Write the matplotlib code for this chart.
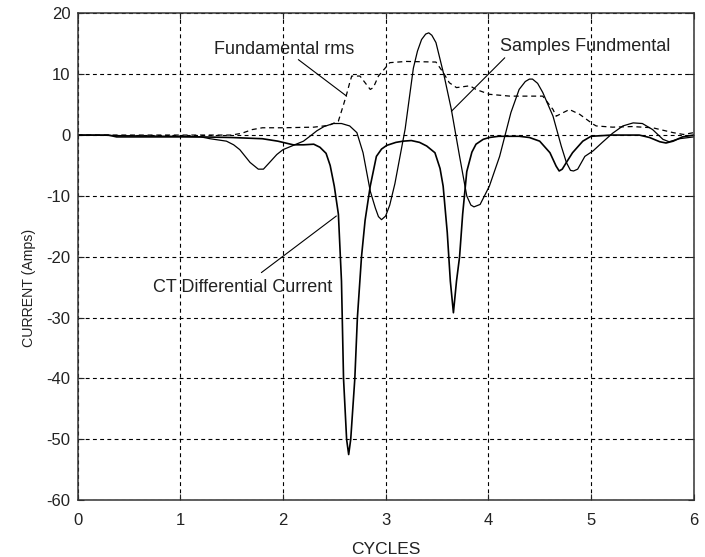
import matplotlib
matplotlib.use("Agg")
import matplotlib.pyplot as plt

plt.rcParams['font.family'] = ['Liberation Sans', 'DejaVu Sans']
plt.rcParams['axes.unicode_minus'] = False

# CT differential current (solid, sharp negative spikes)
x_ct = [0.00, 0.30, 0.38, 0.80, 1.20, 1.50, 1.80, 1.95, 2.10, 2.20, 2.30, 2.36,
        2.42, 2.46, 2.50, 2.54, 2.57, 2.59, 2.62, 2.64, 2.66, 2.70, 2.725, 2.765,
        2.80, 2.85, 2.91, 2.96, 3.01, 3.10, 3.17, 3.25, 3.33, 3.40, 3.48, 3.53,
        3.56, 3.60, 3.63, 3.66, 3.69, 3.72, 3.75, 3.79, 3.84, 3.88, 3.95, 4.01,
        4.10, 4.30, 4.40, 4.50, 4.60, 4.66, 4.69, 4.72, 4.76, 4.82, 4.92, 5.00,
        5.20, 5.47, 5.57, 5.67, 5.73, 5.80, 5.89, 6.00]
ct = [0.0, 0.0, -0.3, -0.3, -0.3, -0.4, -0.6, -1.0, -1.6, -1.6, -1.5, -2.0,
      -3.0, -5.0, -8.4, -13.0, -24.0, -40.0, -50.0, -52.5, -50.0, -40.0, -30.0, -20.0,
      -14.0, -8.4, -3.5, -2.3, -1.7, -1.2, -1.0, -0.9, -1.2, -1.8, -2.9, -5.5,
      -8.4, -16.0, -24.0, -29.2, -24.0, -20.0, -13.0, -6.0, -2.8, -1.5, -0.7, -0.4,
      -0.2, -0.2, -0.4, -1.0, -2.9, -5.1, -5.9, -5.6, -4.5, -2.9, -1.0, -0.2,
      0.0, 0.0, -0.4, -1.1, -1.3, -1.0, -0.3, 0.0]

# Sampled fundamental component (solid, oscillating)
x_sf = [0.00, 0.50, 1.00, 1.20, 1.29, 1.45, 1.52, 1.58, 1.68, 1.76, 1.81, 1.87,
        1.94, 2.00, 2.10, 2.20, 2.27, 2.33, 2.40, 2.49, 2.57, 2.65, 2.72, 2.78,
        2.85, 2.90, 2.93, 2.96, 3.00, 3.04, 3.09, 3.14, 3.19, 3.27, 3.31, 3.35,
        3.39, 3.42, 3.45, 3.49, 3.57, 3.64, 3.72, 3.79, 3.83, 3.86, 3.92, 4.01,
        4.11, 4.22, 4.30, 4.36, 4.40, 4.43, 4.48, 4.53, 4.63, 4.71, 4.76, 4.80,
        4.83, 4.87, 4.94, 5.02, 5.11, 5.21, 5.31, 5.41, 5.50, 5.60, 5.70, 5.76,
        5.86, 6.00]
sf = [0.0, -0.1, -0.2, -0.3, -0.6, -1.0, -1.6, -2.4, -4.5, -5.6, -5.6, -4.5,
      -3.2, -2.4, -1.7, -1.0, -0.1, 0.7, 1.4, 1.9, 1.9, 1.5, 0.4, -2.9,
      -9.2, -12.0, -13.4, -13.9, -13.3, -11.5, -8.0, -3.5, 1.0, 11.0, 13.8, 15.7,
      16.6, 16.8, 16.4, 15.2, 9.7, 4.2, -3.5, -10.0, -11.5, -11.8, -11.4, -8.4,
      -3.5, 3.7, 7.5, 8.8, 9.2, 9.2, 8.5, 7.0, 3.1, -1.8, -4.5, -5.8,
      -5.9, -5.6, -3.5, -2.6, -1.2, 0.3, 1.5, 2.0, 1.9, 0.9, -0.7, -1.1,
      -0.6, -0.3]

# Fundamental rms (dashed)
x_rms = [0.00, 1.50, 1.60, 1.70, 1.80, 2.00, 2.30, 2.45, 2.54, 2.59, 2.62, 2.65,
         2.67, 2.75, 2.80, 2.85, 2.88, 2.93, 3.01, 3.04, 3.20, 3.49, 3.56, 3.62,
         3.69, 3.82, 3.88, 4.01, 4.21, 4.53, 4.63, 4.66, 4.73, 4.79, 4.89, 5.02,
         5.05, 5.21, 5.40, 5.60, 5.70, 5.80, 5.90, 6.00]
rms = [0.0, 0.0, 0.3, 0.9, 1.2, 1.2, 1.3, 1.6, 2.3, 5.0, 6.7, 8.6,
       9.7, 9.7, 8.6, 7.5, 7.8, 9.7, 11.3, 11.9, 12.1, 12.0, 10.3, 8.6,
       7.8, 8.1, 7.5, 6.7, 6.4, 6.4, 4.2, 3.1, 3.7, 4.2, 3.4, 1.8,
       1.5, 1.3, 1.4, 1.2, 0.8, 0.4, 0.1, 0.4]

x_ticks = [0, 1, 2, 3, 4, 5, 6]
y_ticks = [-60, -50, -40, -30, -20, -10, 0, 10, 20]

fig = plt.figure(figsize=(7.05, 5.57), dpi=100)
ax = fig.add_axes([0.110, 0.102, 0.874, 0.874])

ax.plot(x_rms, rms, color='k', lw=0.9, linestyle=(0, (4, 3)))
ax.plot(x_sf, sf, color='k', lw=0.9)
ax.plot(x_ct, ct, color='k', lw=1.2)

ax.set_xlim(0, 6)
ax.set_ylim(-60, 20)
ax.set_xticks(x_ticks)
ax.set_yticks(y_ticks)
ax.grid(True, color='k', lw=0.8, linestyle=(0, (3.5, 3)))
ax.tick_params(direction='in', length=4, top=True, right=True,
               labelsize=12, colors='#222')
ax.tick_params(axis='x', pad=9)
ax.tick_params(axis='y', pad=5)
for s in ax.spines.values():
    s.set_color('#333')
    s.set_linewidth(1.1)

ax.set_xlabel('CYCLES', fontsize=12.5, color='#222', labelpad=10)
ax.set_ylabel('CURRENT (Amps)', fontsize=10.2, color='#222')
ax.yaxis.set_label_coords(-0.067, 0.436)

txt = dict(fontsize=13, color='#222', ha='center', va='center')
line = dict(arrowstyle='-', color='k', lw=0.8, shrinkA=0, shrinkB=0)

ax.text(2.01, 14.0, 'Fundamental rms', **txt)
ax.annotate('', xy=(2.62, 6.4), xytext=(2.15, 12.4), arrowprops=line)

ax.text(4.94, 14.6, 'Samples Fundmental', **txt)
ax.annotate('', xy=(3.64, 3.9), xytext=(4.16, 12.7), arrowprops=line)

ax.text(1.61, -25.0, 'CT Differential Current', **txt)
ax.annotate('', xy=(2.52, -13.3), xytext=(1.79, -22.6), arrowprops=line)

fig.savefig('out.png', dpi=100)
